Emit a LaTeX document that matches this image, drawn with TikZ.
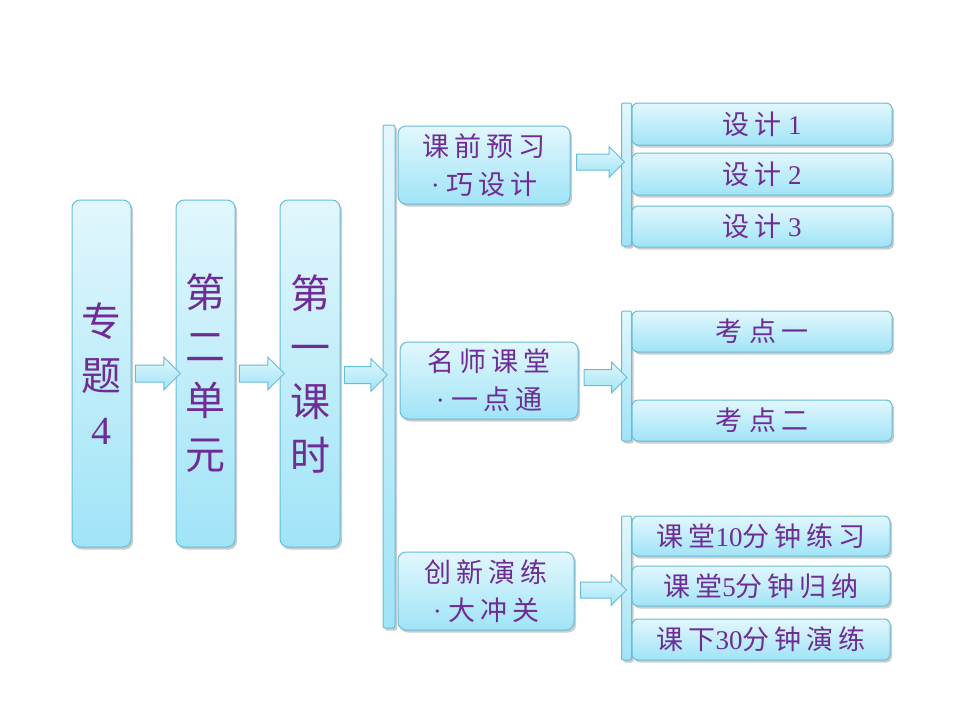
\documentclass[tikz,border=0pt]{standalone}
\usepackage{fontspec}
\setmainfont{Liberation Serif}
\newfontfamily\cjkfont[LetterSpace=18]{Noto Sans CJK SC}
\newcommand{\zh}[1]{{\cjkfont #1}}
\usetikzlibrary{shapes.arrows,shadows,calc}
\definecolor{boxtop}{RGB}{226,247,253}
\definecolor{boxbot}{RGB}{160,228,247}
\definecolor{boxline}{RGB}{105,188,214}
\definecolor{txtpurple}{RGB}{112,44,150}
\begin{document}
\begin{tikzpicture}[x=1pt,y=-1pt]

\tikzset{cyanbox/.style={rounded corners=8pt,draw=boxline,line width=1pt,top color=boxtop,bottom color=boxbot,text=txtpurple,inner sep=0pt,drop shadow={shadow xshift=2pt,shadow yshift=-2.5pt,opacity=.4}},}
\tikzset{bigbox/.style={cyanbox,minimum width=59pt,minimum height=347pt,align=center,font=\fontsize{40}{54}\selectfont},}
\tikzset{midbox/.style={cyanbox,minimum height=78pt,align=center,font=\fontsize{27}{38}\selectfont},}
\tikzset{smallbox/.style={cyanbox,rounded corners=6pt,minimum width=260pt,minimum height=42pt,font=\fontsize{27}{30}\selectfont},}
\tikzset{vbar/.style={cyanbox,rounded corners=2pt,minimum width=10pt},}
\tikzset{barrow/.style={single arrow,draw=boxline,line width=1pt,top color=boxtop,bottom color=boxbot,inner sep=0pt,inner ysep=8pt,single arrow head extend=8pt},}

\useasboundingbox (0,0) rectangle (960,720);

%LEFT COLUMNS
\draw (101.5,373.5) node [bigbox] (zt) {\zh{专}\\\zh{题}\\4};
\draw (205.5,373.5) node [bigbox] (dy) {\zh{第}\\\zh{二}\\\zh{单}\\\zh{元}};
\draw (310,373.5) node [bigbox,minimum width=60pt] (ks) {\zh{第}\\\zh{一}\\\zh{课}\\\zh{时}};

\draw (389,376.5) node [vbar,minimum width=12pt,minimum height=503pt] (bar1) {};

%MIDDLE
\draw (484,165) node [midbox,minimum width=172pt] (qs) {\zh{课前预习}\\·\ \zh{巧设计}};
\draw (489,380.5) node [midbox,minimum width=178pt,minimum height=77pt] (ms) {\zh{名师课堂}\\·\ \zh{一点通}};
\draw (486,591) node [midbox,minimum width=176pt] (cx) {\zh{创新演练}\\·\ \zh{大冲关}};

%RIGHT BARS
\draw (626.5,174.5) node [vbar,minimum height=143pt] (bar2) {};
\draw (626.5,376) node [vbar,minimum height=130pt] (bar3) {};
\draw (626.5,588) node [vbar,minimum height=144pt] (bar4) {};

%RIGHT BOXES
\draw (762,124) node [smallbox] (s1) {\zh{设计} 1};
\draw (762,174) node [smallbox] (s2) {\zh{设计} 2};
\draw (762,226.5) node [smallbox,minimum height=41pt] (s3) {\zh{设计} 3};

\draw (762,331.5) node [smallbox,minimum height=41pt] (k1) {\zh{考} \zh{点一}};
\draw (762,420.5) node [smallbox,minimum height=41pt] (k2) {\zh{考} \zh{点二}};

\draw (761,536) node [smallbox,minimum width=258pt,minimum height=40pt] (l1) {\zh{课堂}10\zh{分钟练习}};
\draw (761,586) node [smallbox,minimum width=258pt,minimum height=40pt] (l2) {\zh{课堂}5\zh{分钟归纳}};
\draw (761,639.5) node [smallbox,minimum width=258pt,minimum height=41pt] (l3) {\zh{课下}30\zh{分钟演练}};

%ARROWS
\node [barrow,minimum height=45pt] (a1) at ($(zt.east)!.5!(dy.west)$) {};
\node [barrow,minimum height=45pt] (a2) at ($(dy.east)!.5!(ks.west)$) {};
\node [barrow,minimum height=43pt] (a3) at ($(ks.east)!.5!(bar1.west)$) {};
\node [barrow,minimum height=48pt,inner ysep=7.5pt,single arrow head extend=7.5pt] (a4) at ($(qs.east)+(26,-3)$) {};
\node [barrow,minimum height=43pt,inner ysep=7.5pt,single arrow head extend=7.5pt] (a5) at ($(ms.east)+(23,-3)$) {};
\node [barrow,minimum height=46pt,inner ysep=7.5pt,single arrow head extend=7.5pt] (a6) at ($(cx.east)+(25,-1)$) {};

\end{tikzpicture}
\end{document}
